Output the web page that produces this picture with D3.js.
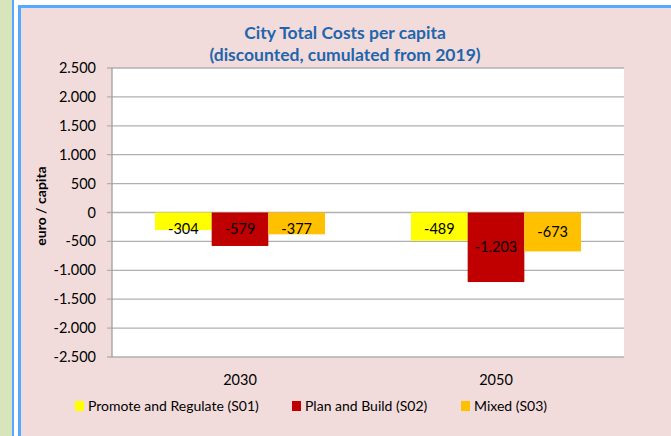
<!DOCTYPE html>
<html>
<head>
<meta charset="utf-8">
<script src="https://cdn.jsdelivr.net/npm/d3@7"></script>
<style>
  body { margin: 0; background: #fff; }
  svg { display: block; font-family: Lato, "Open Sans", sans-serif; }
</style>
</head>
<body>
<div id="chart"></div>
<script>
const years = ['2030', '2050'];
const scenarios = ['Promote and Regulate (S01)', 'Plan and Build (S02)', 'Mixed (S03)'];
const colors = ['#ffff00', '#c00000', '#ffc000'];
// euro / capita, per year: S01, S02, S03
const values2030 = [-304, -579, -377];
const values2050 = [-489, -1203, -673];
const yTicks = [2500, 2000, 1500, 1000, 500, 0, -500, -1000, -1500, -2000, -2500];

const W = 671, H = 436;
const plot = { left: 112, right: 624, top: 68, bottom: 357 };

const locale = d3.formatLocale({ decimal: ',', thousands: '.', grouping: [3], currency: ['', '€'], minus: '-' });
const fmt = locale.format(',d');

const svg = d3.select('#chart').append('svg')
  .attr('width', W)
  .attr('height', H);

// background panels
svg.append('rect').attr('x', 0).attr('y', 0).attr('width', 12).attr('height', H).attr('fill', '#d8e4bc');
svg.append('rect').attr('x', 12).attr('y', 0).attr('width', 2).attr('height', H).attr('fill', '#55aaff');
svg.append('rect').attr('x', 14).attr('y', 0).attr('width', 4).attr('height', H).attr('fill', '#ffffff');
svg.append('rect').attr('x', 18).attr('y', 5).attr('width', W - 18).attr('height', H - 5).attr('fill', '#55aaff');
svg.append('rect').attr('x', 21).attr('y', 8).attr('width', W - 21).attr('height', H - 8).attr('fill', '#f2dcdb');

// plot area
svg.append('rect')
  .attr('x', plot.left).attr('y', plot.top)
  .attr('width', plot.right - plot.left).attr('height', plot.bottom - plot.top)
  .attr('fill', '#ffffff');

const y = d3.scaleLinear().domain([-2500, 2500]).range([plot.bottom, plot.top]);
const x0 = d3.scaleBand().domain(years).range([plot.left, plot.right]).paddingInner(0.336).paddingOuter(0.168);
const x1 = d3.scaleBand().domain(scenarios).range([0, x0.bandwidth()]);

// gridlines
svg.append('g')
  .selectAll('line')
  .data(yTicks)
  .join('line')
  .attr('x1', plot.left - 5)
  .attr('x2', plot.right)
  .attr('y1', d => y(d))
  .attr('y2', d => y(d))
  .attr('stroke', '#b0b0b0')
  .attr('stroke-width', 1.3);

// y axis line
svg.append('line')
  .attr('x1', plot.left).attr('x2', plot.left)
  .attr('y1', plot.top).attr('y2', plot.bottom)
  .attr('stroke', '#a0a0a0').attr('stroke-width', 1.3);

// y tick labels
svg.append('g')
  .selectAll('text')
  .data(yTicks)
  .join('text')
  .attr('x', plot.left - 16)
  .attr('y', d => y(d))
  .attr('dy', '0.35em')
  .attr('text-anchor', 'end')
  .attr('font-size', 14.5)
  .attr('fill', '#000')
  .text(d => fmt(d));

// bars
const rows = years.map((yr, i) => ({ year: yr, vals: i === 0 ? values2030 : values2050 }));
const groups = svg.append('g')
  .selectAll('g')
  .data(rows)
  .join('g')
  .attr('transform', d => `translate(${x0(d.year)},0)`);

groups.selectAll('rect')
  .data(d => d.vals.map((v, j) => ({ key: scenarios[j], v, c: colors[j] })))
  .join('rect')
  .attr('x', d => x1(d.key))
  .attr('y', d => y(Math.max(0, d.v)))
  .attr('width', x1.bandwidth())
  .attr('height', d => Math.abs(y(d.v) - y(0)))
  .attr('fill', d => d.c);

groups.selectAll('text')
  .data(d => d.vals.map((v, j) => ({ key: scenarios[j], v })))
  .join('text')
  .attr('x', d => x1(d.key) + x1.bandwidth() / 2)
  .attr('y', d => Math.max((y(d.v) + y(0)) / 2, y(0) + 16))
  .attr('dy', '0.35em')
  .attr('text-anchor', 'middle')
  .attr('font-size', 14.5)
  .attr('fill', '#000')
  .text(d => fmt(d.v));

// x labels
svg.append('g')
  .selectAll('text')
  .data(years)
  .join('text')
  .attr('x', d => x0(d) + x0.bandwidth() / 2)
  .attr('y', 380)
  .attr('dy', '0.35em')
  .attr('text-anchor', 'middle')
  .attr('font-size', 14.5)
  .text(d => d);

// title
svg.append('text')
  .attr('x', 345).attr('y', 33)
  .attr('dy', '0.35em')
  .attr('text-anchor', 'middle')
  .attr('font-size', 17.5).attr('font-weight', 'bold')
  .attr('fill', '#1f65ad')
  .text('City Total Costs per capita');
svg.append('text')
  .attr('x', 345).attr('y', 55)
  .attr('dy', '0.35em')
  .attr('text-anchor', 'middle')
  .attr('font-size', 17.5).attr('font-weight', 'bold')
  .attr('fill', '#1f65ad')
  .text('(discounted, cumulated from 2019)');

// y axis title
svg.append('text')
  .attr('transform', `translate(41,206) rotate(-90)`)
  .attr('dy', '0.35em')
  .attr('text-anchor', 'middle')
  .attr('font-size', 14).attr('font-weight', 'bold')
  .text('euro / capita');

// legend
const legendX = [75, 292, 461];
const legend = svg.append('g')
  .selectAll('g')
  .data(scenarios)
  .join('g')
  .attr('transform', (d, i) => `translate(${legendX[i]},406)`);
legend.append('rect')
  .attr('x', 0).attr('y', -5)
  .attr('width', 9).attr('height', 10)
  .attr('fill', (d, i) => colors[i]);
legend.append('text')
  .attr('x', 13)
  .attr('dy', '0.35em')
  .attr('font-size', 14)
  .text(d => d);
</script>
</body>
</html>
